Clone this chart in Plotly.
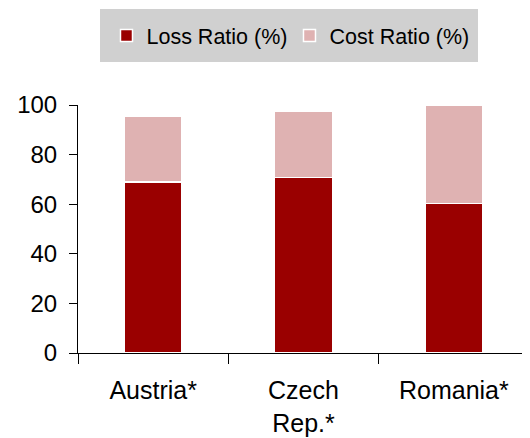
import plotly.graph_objects as go

categories = ["Austria*", "Czech<br>Rep.*", "Romania*"]
loss_ratio = [69.0, 70.8, 60.2]
cost_ratio = [26.6, 26.7, 39.6]
y_ticks = [0, 20, 40, 60, 80, 100]

FONT = "Liberation Sans, Arial, sans-serif"

fig = go.Figure()
fig.add_trace(go.Bar(
    x=categories, y=loss_ratio, name="Loss Ratio (%)",
    marker=dict(color="#9a0000", line=dict(color="white", width=1.5)),
))
fig.add_trace(go.Bar(
    x=categories, y=cost_ratio, name="Cost Ratio (%)",
    marker=dict(color="#dfb2b2", line=dict(color="white", width=1.5)),
))

fig.update_layout(
    barmode="stack",
    bargap=0.615,
    width=530, height=438,
    margin=dict(l=65, r=9, t=97, b=93),
    paper_bgcolor="white", plot_bgcolor="white",
    font=dict(family=FONT, size=24, color="black"),
    showlegend=True,
    legend=dict(
        orientation="h",
        xref="container", yref="container",
        x=0.1745, xanchor="left",
        y=0.9977, yanchor="top",
        bgcolor="#d0d0d0",
        bordercolor="#d0d0d0", borderwidth=6,
        font=dict(family=FONT, size=21.5, color="black"),
        entrywidth=138, entrywidthmode="pixels",
        traceorder="normal",
    ),
    xaxis=dict(
        showline=True, linecolor="black", linewidth=1,
        ticks="outside", ticklen=10, tickcolor="black",
        tickson="boundaries",
        showgrid=False, zeroline=False,
        tickfont=dict(size=25),
        ticklabelstandoff=15,
    ),
    yaxis=dict(
        range=[0, 100],
        tickvals=y_ticks,
        showline=True, linecolor="black", linewidth=1,
        ticks="outside", ticklen=8, tickcolor="black",
        showgrid=False, zeroline=False,
        tickfont=dict(size=24),
        ticklabelstandoff=7,
    ),
)

fig.write_html("out.html")
